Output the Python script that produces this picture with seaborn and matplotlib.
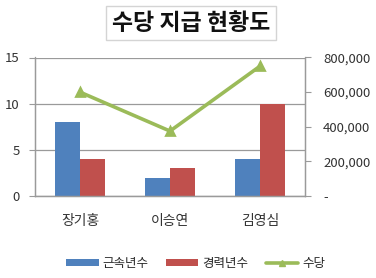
import matplotlib
matplotlib.use("Agg")
import matplotlib.pyplot as plt
import matplotlib.ticker as mticker
from matplotlib.lines import Line2D
from matplotlib.patches import Patch
import seaborn as sns
import pandas as pd

names = ["장기홍", "이승연", "김영심"]
years_service = [8, 2, 4]
years_career = [4, 3, 10]
allowance = [600000, 375000, 750000]
series_names = ["근속년수", "경력년수", "수당"]
left_ticks = [0, 5, 10, 15]
right_ticks = [0, 200000, 400000, 600000, 800000]

BLUE = "#4F81BD"
RED = "#C0504D"
GREEN = "#9BBB59"
GRAY = "#9a9a9a"

sns.set_style("white")
plt.rcParams["font.family"] = ["Noto Sans CJK KR", "DejaVu Sans"]

bars = pd.DataFrame({
    "name": names * 2,
    "value": years_service + years_career,
    "series": [series_names[0]] * 3 + [series_names[1]] * 3,
})
line = pd.DataFrame({"name": names, "value": allowance})

fig = plt.figure(figsize=(3.76, 2.78), dpi=100)
ax = fig.add_axes([35 / 376, 1 - 196 / 278, 270 / 376, (196 - 57.5) / 278])

sns.barplot(data=bars, x="name", y="value", hue="series", order=names,
            palette=[BLUE, RED], width=0.56, saturation=1, ax=ax,
            legend=False, errorbar=None, linewidth=0, edgecolor="none", gap=0)
ax.set_ylim(0, 15)
ax.set_yticks(left_ticks)
ax.set_xlim(-0.5, 2.5)
ax.set_xlabel("")
ax.set_ylabel("")
ax.yaxis.grid(True, color=GRAY, linewidth=0.9)
ax.set_axisbelow(True)

ax2 = ax.twinx()
sns.pointplot(data=line, x="name", y="value", order=names, color=GREEN,
              markers="^", linewidth=2.6, markersize=6, ax=ax2, errorbar=None)
ax2.set_ylim(0, 800000)
ax2.set_yticks(right_ticks)
ax2.yaxis.set_major_formatter(mticker.FuncFormatter(
    lambda v, p: "-" if v == 0 else f"{int(v):,}"))
ax2.set_xlim(-0.5, 2.5)
ax2.set_ylabel("")
ax2.set_xlabel("")

for a in (ax, ax2):
    for s in a.spines.values():
        s.set_color(GRAY)
        s.set_linewidth(0.9)
    a.spines["top"].set_visible(False)

ax.xaxis.set_minor_locator(mticker.FixedLocator([-0.5, 0.5, 1.5, 2.5]))
ax.tick_params(axis="x", which="major", length=0, pad=13, labelsize=10, colors="#333333")
ax.tick_params(axis="x", which="minor", length=4, color=GRAY, direction="out")
ax.tick_params(axis="y", length=4, color=GRAY, direction="out", pad=7, labelsize=9.5, labelcolor="#333333")
ax2.tick_params(axis="y", length=4, color=GRAY, direction="out", pad=9, labelsize=9.5, labelcolor="#333333")

fig.text(191 / 376, 1 - 23 / 278, "수당 지급 현황도", ha="center", va="center",
         fontsize=16.5, fontweight="bold", color="#111111",
         bbox=dict(boxstyle="square,pad=0.25", fc="white", ec="#d4d4d4", lw=1))

handles = [
    Patch(facecolor=BLUE, edgecolor="none"),
    Patch(facecolor=RED, edgecolor="none"),
    Line2D([0], [0], color=GREEN, lw=2.6, marker="^", markersize=5),
]
fig.legend(handles, series_names, loc="center", bbox_to_anchor=(0.52, 1 - 263 / 278),
           ncol=3, frameon=False, fontsize=9, handlelength=2.6, handleheight=0.5,
           columnspacing=1.4, handletextpad=0.3)

fig.savefig("out.png", dpi=100)
